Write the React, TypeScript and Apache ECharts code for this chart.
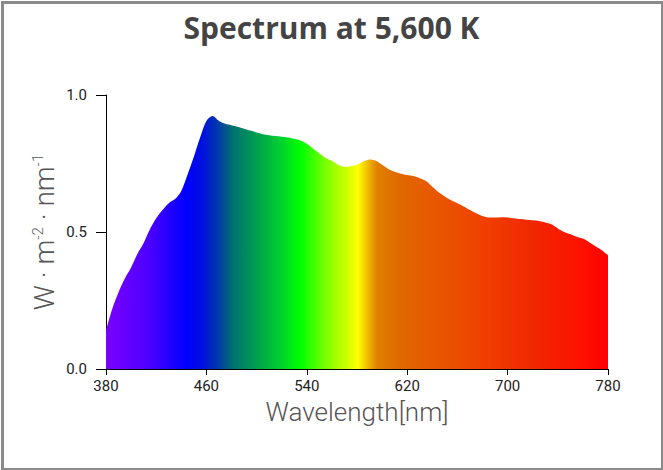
import React, { useEffect, useRef } from "react";
import * as echarts from "echarts";

const TITLE = "Spectrum at 5,600 K";
const X_NAME = "Wavelength[nm]";

const wavelengths: number[] = [
  380, 385, 390, 395, 400, 405, 410, 415, 420, 425, 430, 435, 440, 445, 450, 455,
  460, 465, 470, 475, 480, 485, 490, 495, 500, 505, 510, 515, 520, 525, 530, 535,
  540, 545, 550, 555, 560, 565, 570, 575, 580, 585, 590, 595, 600, 605, 610, 615,
  620, 625, 630, 635, 640, 645, 650, 655, 660, 665, 670, 675, 680, 685, 690, 695,
  700, 705, 710, 715, 720, 725, 730, 735, 740, 745, 750, 755, 760, 765, 770, 775, 780,
];

const irradiance: number[] = [
  0.14, 0.22, 0.28, 0.33, 0.37, 0.42, 0.46, 0.51, 0.55, 0.58, 0.605, 0.62, 0.65, 0.71, 0.775, 0.845,
  0.905, 0.923, 0.905, 0.895, 0.89, 0.884, 0.877, 0.87, 0.863, 0.857, 0.853, 0.85, 0.848, 0.845, 0.84, 0.834,
  0.822, 0.805, 0.787, 0.77, 0.76, 0.745, 0.738, 0.74, 0.745, 0.757, 0.765, 0.76, 0.745, 0.73, 0.72, 0.713,
  0.708, 0.704, 0.696, 0.686, 0.665, 0.645, 0.63, 0.616, 0.605, 0.593, 0.58, 0.568, 0.558, 0.553, 0.553, 0.554,
  0.553, 0.55, 0.547, 0.545, 0.543, 0.54, 0.535, 0.528, 0.513, 0.5, 0.492, 0.483, 0.476, 0.463, 0.448, 0.433, 0.415,
];

// spectral colour stops: wavelength (nm) -> colour
const stopWavelengths: number[] = [381, 415, 444, 457, 468, 481, 500, 519, 535, 556, 572, 581, 588, 596, 614, 641, 680, 720, 760, 780];
const stopColors: string[] = [
  "#7a00ff", "#4a00ff", "#0000ff", "#0010e0", "#0035b0", "#007070", "#00a050", "#00d030", "#00ff00", "#80ff00",
  "#d0ff00", "#ffff00", "#f0c000", "#e08000", "#e06800", "#e85800", "#f04000", "#f02800", "#ff1000", "#ff0000",
];

const X_MIN = 380;
const X_MAX = 780;
const X_INTERVAL = 80;
const Y_MIN = 0;
const Y_MAX = 1;
const Y_INTERVAL = 0.5;

export default function App() {
  const ref = useRef<HTMLDivElement>(null);

  useEffect(() => {
    if (!ref.current) return;
    const chart = echarts.init(ref.current, undefined, { renderer: "svg" });

    const data = wavelengths.map((w, i) => [w, irradiance[i]]);
    const stops = stopWavelengths.map((w, i) => ({
      offset: (w - X_MIN) / (X_MAX - X_MIN),
      color: stopColors[i],
    }));

    const font = "Roboto, 'DejaVu Sans', sans-serif";
    const titleFont = "'Open Sans', Roboto, sans-serif";

    chart.setOption({
      animation: false,
      backgroundColor: "#ffffff",
      title: {
        text: TITLE,
        left: "center",
        top: 7,
        textStyle: {
          fontFamily: titleFont,
          fontSize: 30,
          fontWeight: "bold",
          color: "#444444",
        },
      },
      grid: { left: 106, right: 55, top: 95, bottom: 101, containLabel: false },
      xAxis: {
        type: "value",
        min: X_MIN,
        max: X_MAX,
        interval: X_INTERVAL,
        name: X_NAME,
        nameLocation: "middle",
        nameGap: 30,
        nameMoveOverlap: false,
        nameTextStyle: { fontFamily: font, fontSize: 26, fontWeight: 300, color: "#555555" },
        axisLine: { show: true, lineStyle: { color: "#000000", width: 1 } },
        axisTick: { show: true, length: 6, lineStyle: { color: "#000000" } },
        axisLabel: { fontFamily: font, fontSize: 15, color: "#222222", margin: 9 },
        splitLine: { show: false },
      },
      yAxis: {
        type: "value",
        min: Y_MIN,
        max: Y_MAX,
        interval: Y_INTERVAL,
        name: "{a|W · m}{s|-2}{a| · nm}{s|-1}",
        nameLocation: "middle",
        nameGap: 48,
        nameMoveOverlap: false,
        nameTextStyle: {
          fontFamily: font,
          fontSize: 28,
          fontWeight: 300,
          color: "#555555",
          rich: {
            a: { fontFamily: font, fontSize: 28, fontWeight: 300, color: "#555555" },
            s: { fontFamily: font, fontSize: 15, fontWeight: 300, color: "#555555", verticalAlign: "top" },
          },
        },
        axisLine: { show: true, lineStyle: { color: "#000000", width: 1 } },
        axisTick: { show: true, length: 10, lineStyle: { color: "#000000" } },
        axisLabel: {
          fontFamily: font,
          fontSize: 15,
          color: "#222222",
          margin: 19,
          formatter: (v: number) => v.toFixed(1),
        },
        splitLine: { show: false },
      },
      series: [
        {
          type: "line",
          data,
          showSymbol: false,
          smooth: 0.3,
          lineStyle: { width: 0, opacity: 0 },
          areaStyle: {
            opacity: 1,
            color: new echarts.graphic.LinearGradient(0, 0, 1, 0, stops),
          },
          z: 1,
        },
      ],
      graphic: [
        {
          type: "rect",
          left: 0,
          top: 0,
          shape: { x: 1, y: 1, width: 660, height: 467 },
          style: { fill: "none", stroke: "#8a8a8a", lineWidth: 3 },
          silent: true,
          z: 100,
        },
      ],
    });

    return () => chart.dispose();
  }, []);

  return (
    <div
      ref={ref}
      style={{ position: "absolute", left: 0, top: 0, width: 663, height: 470 }}
    />
  );
}
